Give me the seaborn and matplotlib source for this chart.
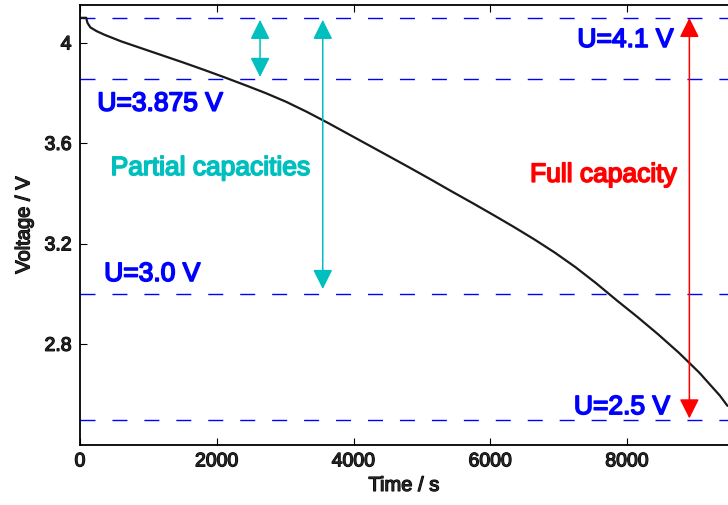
import matplotlib
matplotlib.use("Agg")
import matplotlib.pyplot as plt
import matplotlib.patheffects as pe
from matplotlib.patches import ArrowStyle
import pandas as pd
import seaborn as sns

# ---- data ----
time_s = [0, 91, 109, 151, 242, 362, 483, 604, 906, 1208, 1510, 1811, 2113,
          2415, 2717, 3019, 3321, 3623, 3925, 4227, 4529, 4830, 5132, 5434,
          5736, 6038, 6340, 6642, 6944, 7246, 7548, 7849, 8151, 8453, 8755,
          9057, 9359, 9468]
voltage = [4.100, 4.100, 4.080, 4.062, 4.047, 4.032, 4.019, 4.006, 3.978,
           3.950, 3.922, 3.893, 3.863, 3.832, 3.800, 3.765, 3.725, 3.682,
           3.637, 3.592, 3.547, 3.502, 3.456, 3.409, 3.363, 3.316, 3.268,
           3.218, 3.165, 3.107, 3.043, 2.975, 2.909, 2.840, 2.767, 2.687,
           2.595, 2.555]

levels = [4.1, 3.855, 3.0, 2.5]
level_labels = ["U=4.1 V", "U=3.875 V", "U=3.0 V", "U=2.5 V"]
label_x = [7975, 1170, 1055, 7925]
label_y = [3.984, 3.730, 3.052, 2.522]

# arrows: (time, start V, end V, colour)
arrow_t = [2633, 3550, 8911]
arrow_top = [4.092, 4.092, 4.0996]
arrow_bottom = [3.8645, 3.020, 2.5048]
arrow_colors = ["#00BFBF", "#00BFBF", "#FF0000"]

yticks = [2.8, 3.2, 3.6, 4.0]
ytick_labels = ["2.8", "3.2", "3.6", "4"]
xticks = [0, 2000, 4000, 6000, 8000]

# ---- styling ----
sns.set_theme(style="ticks")
plt.rcParams["font.family"] = ["Liberation Sans", "DejaVu Sans"]
thick = [pe.withStroke(linewidth=0.9, foreground="black")]

fig = plt.figure(figsize=(7.28, 5.06), dpi=100)
ax = fig.add_axes([80 / 728, 60 / 506, 648 / 728, 440 / 506])

df = pd.DataFrame({"Time / s": time_s, "Voltage / V": voltage})
sns.lineplot(data=df, x="Time / s", y="Voltage / V", ax=ax, color="#1a1a1a",
             linewidth=1.6, estimator=None, sort=False)

for lv in levels:
    ax.axhline(lv, color="#0000FF", linewidth=1.0, dashes=(10.8, 12.2), zorder=1)

for txt, tx, ty in zip(level_labels, label_x, label_y):
    ax.text(tx, ty, txt, color="#0000FF", fontsize=19, ha="center", va="baseline",
            path_effects=[pe.withStroke(linewidth=1.2, foreground="#0000FF")])

ax.text(1910, 3.474, "Partial capacities", color="#00BFBF", fontsize=19,
        ha="center", va="baseline",
        path_effects=[pe.withStroke(linewidth=1.2, foreground="#00BFBF")])
ax.text(7656, 3.447, "Full capacity", color="#FF0000", fontsize=19,
        ha="center", va="baseline",
        path_effects=[pe.withStroke(linewidth=1.2, foreground="#FF0000")])

style = ArrowStyle("<|-|>", head_length=12, head_width=6)
for t, v0, v1, c in zip(arrow_t, arrow_top, arrow_bottom, arrow_colors):
    ax.annotate("", xy=(t, v1), xytext=(t, v0),
                arrowprops=dict(arrowstyle=style, color=c, lw=1.1,
                                shrinkA=0, shrinkB=0, mutation_scale=1))

ax.set_xlim(0, 9476)
ax.set_ylim(2.399, 4.151)
ax.set_xticks(xticks)
ax.set_xticklabels([str(x) for x in xticks])
ax.set_yticks(yticks)
ax.set_yticklabels(ytick_labels)

ax.tick_params(axis="both", direction="in", length=5, width=0.8, labelsize=14,
               top=True, right=False, color="black", pad=6)
for lab in ax.get_xticklabels() + ax.get_yticklabels():
    lab.set_path_effects(thick)

ax.set_xlabel("Time / s", fontsize=14.5, labelpad=4, path_effects=thick)
ax.set_ylabel("Voltage / V", fontsize=14.5, labelpad=8, path_effects=thick)

for s in ["left", "bottom", "top"]:
    ax.spines[s].set_visible(True)
    ax.spines[s].set_color("black")
    ax.spines[s].set_linewidth(1.3)
ax.spines["right"].set_visible(False)
ax.set_facecolor("white")
fig.patch.set_facecolor("white")

fig.savefig("out.png", dpi=100)
